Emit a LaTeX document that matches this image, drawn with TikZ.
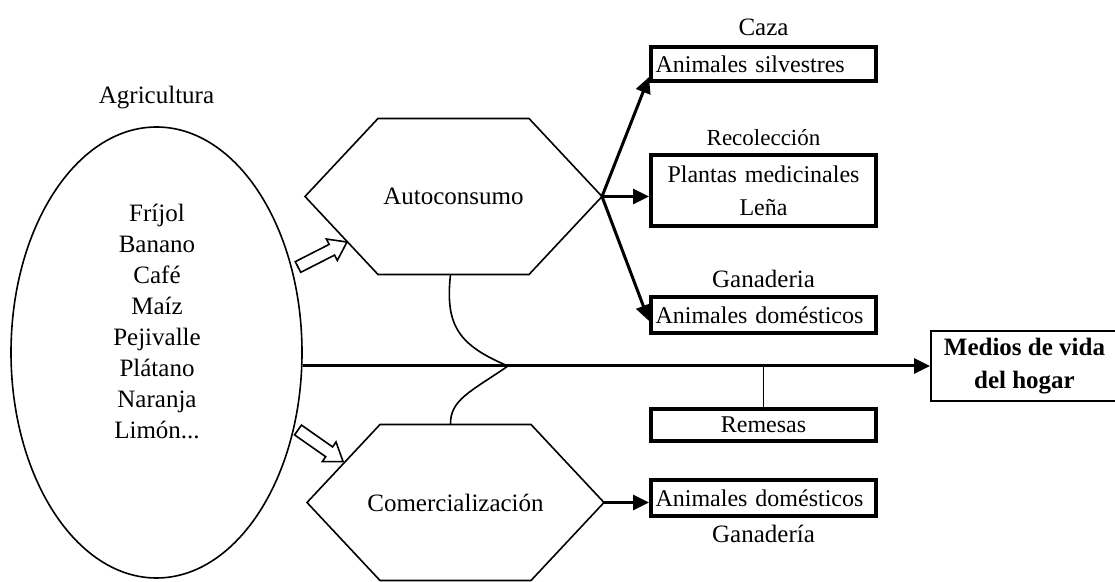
\documentclass[tikz,border=0pt]{standalone}
\usepackage{fontspec}
\setmainfont{Liberation Serif}
\usetikzlibrary{positioning}
\usetikzlibrary{calc}
\usetikzlibrary{arrows.meta}
\usetikzlibrary{shapes.geometric}

\begin{document}
\begin{tikzpicture}[x=0.5pt, y=-0.5pt, font=\fontsize{12.5}{15.5}\selectfont,
    caja/.style={draw, line width=2pt, minimum width=112.5pt, text width=108pt, inner xsep=2.25pt, inner ysep=0pt, align=left, font=\fontsize{12}{16.5}\selectfont},
    hexa/.style={minimum width=148.5pt, minimum height=78pt, outer sep=0pt, inner sep=0pt},
    flecha/.style={-{Triangle[length=8pt, width=7.5pt]}, line width=1.5pt},
    fino/.style={line width=0.8pt}]
    \useasboundingbox (0,0) rectangle (1115,582);

    \node[draw, ellipse, fino, minimum width=145.5pt, minimum height=225.5pt, inner sep=0pt] (agricultura) at (156.5,352.5) {};
    \node[above=5pt of agricultura] (agricultura-t) {Agricultura};
    \node[align=center] (cultivos) at (157,321) {Fríjol\\Banano\\Café\\Maíz\\Pejivalle\\Plátano\\Naranja\\Limón...};

    \node[hexa] (auto) at (453.5,196.5) {Autoconsumo};
    \node[hexa] (come) at (455.5,502.5) {Comercialización};
    \foreach \h in {auto, come}
        \draw[fino] (\h.west) -- ([xshift=36.5pt]\h.north west) -- ([xshift=-36.5pt]\h.north east) -- (\h.east) -- ([xshift=-36.5pt]\h.south east) -- ([xshift=36.5pt]\h.south west) -- cycle;

    \foreach \x/\y/\a in {298/267/27, 298/430/-35}
        \draw[fino, shift={(\x,\y)}, rotate=\a] (0,-6) -- (38,-6) -- (38,-12) -- (55,0) -- (38,12) -- (38,6) -- (0,6) -- cycle;

    \node[caja, minimum height=17pt] (silv) at (763.5,64) {Animales silvestres};
    \node[caja, align=center, minimum height=35.5pt] (plantas) at (763.5,190.5) {Plantas medicinales\\Leña};
    \node[caja, minimum height=18pt] (dom) at (763.5,315) {Animales domésticos};
    \node[caja, align=center, minimum height=16pt] (remesas) at (763.5,425) {Remesas};
    \node[caja, minimum height=18pt] (dom2) at (763.5,498) {Animales domésticos};
    \node[draw, line width=1pt, minimum width=93.5pt, minimum height=35pt, align=center, font=\fontsize{12.5}{16.5}\selectfont\bfseries] (medios) at (1024.5,366) {Medios de vida\\del hogar};

    \node[above=1pt of silv] (caza) {Caza};
    \node[above=0pt of plantas, font=\fontsize{11.5}{14}\selectfont] (recol) {Recolección};
    \node[above=0pt of dom] (gan) {Ganaderia};
    \node[below=0pt of dom2] (gan2) {Ganadería};

    \coordinate (union) at (508,366);
    \draw[flecha] (agricultura.east |- medios.west) -- (medios.west);
    \draw[fino] (remesas.north) -- (remesas.north |- medios.west);
    \draw[fino] ([xshift=-1.5pt]auto.south) .. controls (445,325) and (458,345) .. (union) .. controls (470,392) and (450,400) .. ([xshift=-2.5pt]come.north);
    \draw[flecha] (auto.east) -- ([shift={(0,-6)}]silv.south west);
    \draw[flecha] (auto.east) -- (auto.east -| plantas.west);
    \draw[flecha] (auto.east) -- ([shift={(0,6)}]dom.west);
    \draw[flecha] (come.east) -- (come.east -| dom2.west);
\end{tikzpicture}
\end{document}
